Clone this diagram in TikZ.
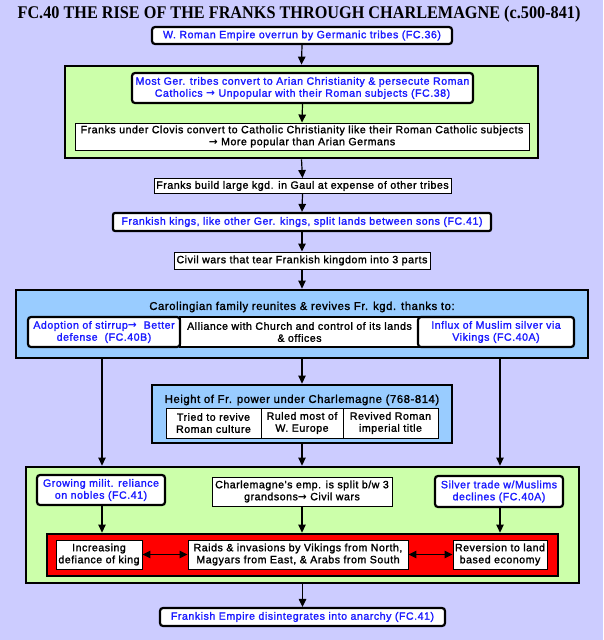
\documentclass[tikz,border=0pt]{standalone}
\usepackage{fontspec}
\setmainfont{Liberation Sans}
\newfontfamily\boxfont{Liberation Sans}[FakeBold=1.6, LetterSpace=5]
\newfontfamily\arrowfont{DejaVu Sans Bold}
\newfontfamily\titlefont{Liberation Serif}
\newcommand{\rarr}{{\arrowfont →}}
\usetikzlibrary{arrows.meta}
\definecolor{bg}{HTML}{CCCCFF}
\definecolor{lgreen}{HTML}{CCFFAA}
\definecolor{lblue}{HTML}{99CCFF}
\definecolor{btext}{HTML}{1A1AFF}
\tikzset{
  txt/.style={font=\boxfont\fontsize{10.6}{12}\selectfont, align=center, inner sep=0pt},
  headtxt/.style={font=\boxfont\fontsize{11.3}{13}\selectfont, align=center, inner sep=0pt},
  thinbox/.style={txt, draw, line width=0.9pt, fill=white},
  midbox/.style={txt, draw, line width=1.5pt, fill=white},
  thickbox/.style={txt, draw, line width=2.2pt, rounded corners=3pt, fill=white, text=btext},
  container/.style={draw, line width=2.8pt, inner sep=0pt},
  arr/.style={-{Triangle[width=7.5pt,length=8pt]}, line width=1.2pt},
  darr/.style={{Triangle[width=7.5pt,length=8pt]}-{Triangle[width=7.5pt,length=8pt]}, line width=1.2pt},
}
\begin{document}
\begin{tikzpicture}[x=1pt,y=-1pt]
\fill[bg] (0,0) rectangle (603,640);
\useasboundingbox (0,0) rectangle (603,640);

\node[font=\titlefont\bfseries\fontsize{17}{19}\selectfont, inner sep=0pt] (title) at (299,14) {\scalebox{0.955}[1.05]{FC.40 THE RISE OF THE FRANKS THROUGH CHARLEMAGNE (c.500-841)}};

\node[thickbox, minimum width=300pt, minimum height=17pt] (b1) at (302,35.5) {W. Roman Empire overrun by Germanic tribes (FC.36)};

\node[container, fill=lgreen, minimum width=473pt, minimum height=92pt] (g1) at (301.5,112) {};
\node[thickbox, minimum width=341pt, minimum height=30pt] (b2) at (302.5,88) {Most Ger. tribes convert to Arian Christianity \& persecute Roman\\Catholics \rarr\ Unpopular with their Roman subjects (FC.38)};
\node[thinbox, minimum width=454pt, minimum height=27pt] (b3) at (302,136.5) {Franks under Clovis convert to Catholic Christianity like their Roman Catholic subjects\\\rarr\ More popular than Arian Germans};

\node[thinbox, minimum width=297pt, minimum height=15pt] (b4) at (302.5,186) {Franks build large kgd. in Gaul at expense of other tribes};
\node[thickbox, rounded corners=2pt, minimum width=378pt, minimum height=18pt] (b5) at (302,222) {Frankish kings, like other Ger. kings, split lands between sons (FC.41)};
\node[thinbox, minimum width=256pt, minimum height=17pt] (b6) at (302,260.5) {Civil wars that tear Frankish kingdom into 3 parts};

\node[container, fill=lblue, minimum width=572pt, minimum height=68pt] (blue) at (302,324) {};
\node[headtxt] (bluehead) at (302,307) {Carolingian family reunites \& revives Fr. kgd. thanks to:};
\node[midbox, minimum width=239pt, minimum height=30pt] (c2) at (299.5,332) {Alliance with Church and control of its lands\\\& offices};
\node[thickbox, minimum width=152pt, minimum height=30pt] (c1) at (104,332) {Adoption of stirrup\rarr\ \ Better\\defense\ \ (FC.40B)};
\node[thickbox, minimum width=156pt, minimum height=30pt] (c3) at (496,332) {Influx of Muslim silver via\\Vikings (FC.40A)};

\node[container, fill=lblue, minimum width=300pt, minimum height=58pt] (height) at (302,414) {};
\node[headtxt] (heighthead) at (302,400) {Height of Fr. power under Charlemagne (768-814)};
\node[thinbox, minimum width=95pt, minimum height=30pt] (h1) at (213.5,423) {Tried to revive\\Roman culture};
\node[thinbox, minimum width=82pt, minimum height=30pt] (h2) at (302,423) {Ruled most of\\W. Europe};
\node[thinbox, minimum width=95pt, minimum height=30pt] (h3) at (390.5,423) {Revived Roman\\imperial title};

\node[container, fill=lgreen, minimum width=553pt, minimum height=116pt] (g2) at (302.5,525) {};
\node[thickbox, minimum width=128pt, minimum height=30pt] (d1) at (101,490) {Growing milit. reliance\\on nobles (FC.41)};
\node[thinbox, minimum width=180pt, minimum height=29pt] (d2) at (302,491.5) {Charlemagne's emp. is split b/w 3\\grandsons\rarr\ Civil wars};
\node[thickbox, minimum width=128pt, minimum height=31pt] (d3) at (499,491.5) {Silver trade w/Muslims\\declines (FC.40A)};

\node[container, fill=red, minimum width=511pt, minimum height=42pt] (red) at (302.5,555) {};
\node[thinbox, minimum width=86pt, minimum height=29pt] (e1) at (99,554.5) {Increasing\\defiance of king};
\node[thinbox, minimum width=220pt, minimum height=29pt] (e2) at (298,554.5) {Raids \& invasions by Vikings from North,\\Magyars from East, \& Arabs from South};
\node[thinbox, minimum width=94pt, minimum height=29pt] (e3) at (500,554.5) {Reversion to land\\based economy};

\node[thickbox, minimum width=285pt, minimum height=18pt] (final) at (302.5,617) {Frankish Empire disintegrates into anarchy (FC.41)};

% connectors
\draw[arr] (b1.south) -- (g1.north);
\draw[arr] (b2.south) -- (b3.north);
\draw[arr] (g1.south) -- (b4.north);
\draw[arr] (b4.south) -- (b5.north);
\draw[arr] (b5.south) -- (b6.north);
\draw[arr] (b6.south) -- (blue.north);
\draw[arr] (blue.south) -- (height.north);
\coordinate (lx) at (102,0);
\coordinate (rx) at (500,0);
\draw[arr] (lx |- blue.south) -- (lx |- g2.north);
\draw[arr] (rx |- blue.south) -- (rx |- g2.north);
\draw[arr] (height.south) -- (g2.north -| height.south);
\draw[arr] (lx |- d1.south) -- (lx |- red.north);
\draw[arr] (d2.south) -- (d2.south |- red.north);
\draw[arr] (rx |- d3.south) -- (rx |- red.north);
\draw[darr] (e1.east) -- (e1.east -| e2.west);
\draw[darr] (e2.east) -- (e2.east -| e3.west);
\draw[arr] (g2.south -| final.north) -- (final.north);
\end{tikzpicture}
\end{document}
